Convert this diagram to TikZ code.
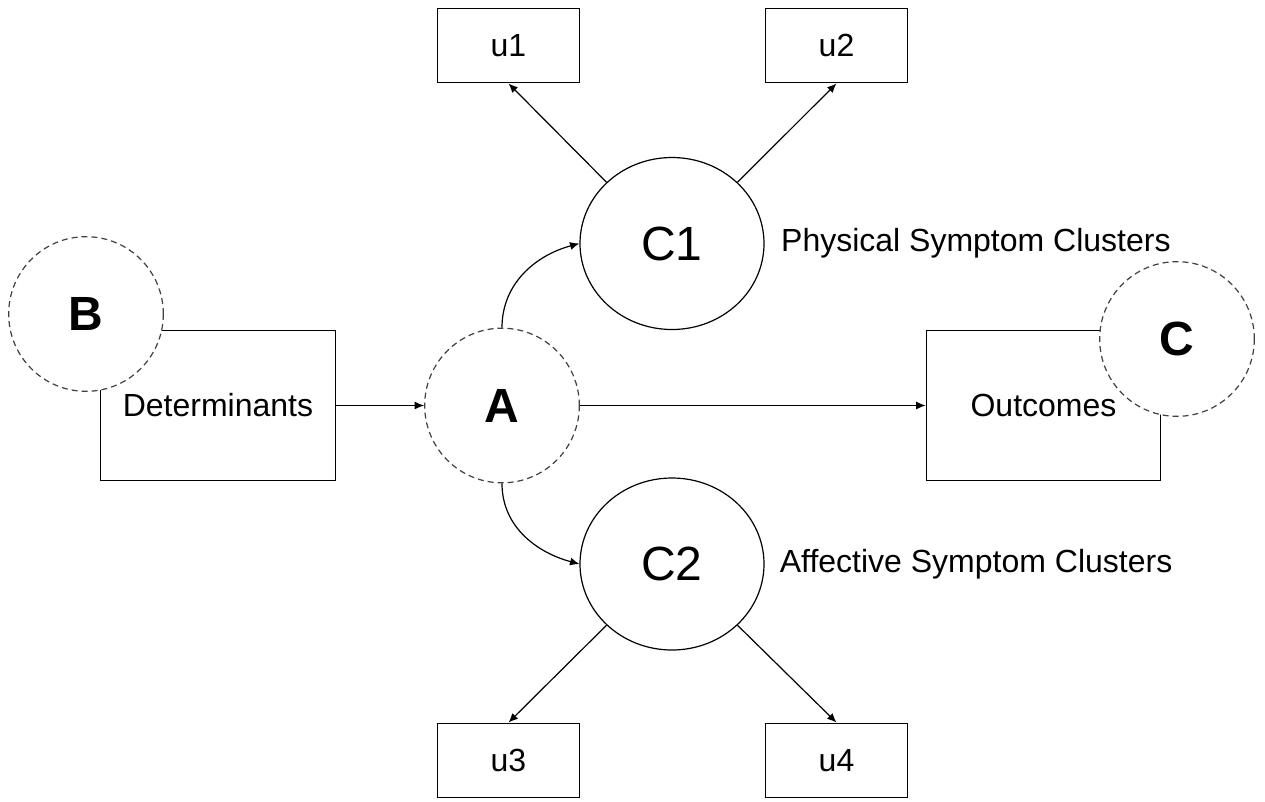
\documentclass[tikz,border=0pt]{standalone}
\usepackage{fontspec}
\setmainfont{Liberation Sans}
\usetikzlibrary{arrows.meta,positioning,shapes.geometric}

\begin{document}
\begin{tikzpicture}[
    x=0.75pt, y=-0.75pt,
    line width=0.9pt,
    font=\fontsize{24}{28}\selectfont,
    ubox/.style={rectangle, draw=black, minimum width=107pt, minimum height=56pt},
    bigbox/.style={rectangle, draw=black, minimum width=176pt, minimum height=112.5pt},
    cluster/.style={ellipse, draw=black, minimum width=138pt, minimum height=129pt,
                    font=\fontsize{36}{40}\selectfont},
    latent/.style={circle, draw=black!75, dash pattern=on 4.5pt off 3pt, fill=white,
                   minimum size=116pt, font=\fontsize{36}{40}\selectfont\bfseries},
    note/.style={inner sep=0pt},
    link/.style={-{Latex[length=7pt,width=6pt]}, black}
  ]
  \useasboundingbox (0,0) rectangle (1265,801);

  \node (u1)   [ubox]    at (508.5,45.5)   {u1};
  \node (u2)   [ubox]    at (836.5,45.5)   {u2};
  \node (u3)   [ubox]    at (508.5,760.5)  {u3};
  \node (u4)   [ubox]    at (836.5,760.5)  {u4};

  \node (C1)   [cluster] at (672,243.5)    {C1};
  \node (C2)   [cluster] at (672,564)      {C2};

  \node (phys) [note, right=12pt of C1]   {Physical Symptom Clusters};
  \node (aff)  [note, right=11pt of C2]   {Affective Symptom Clusters};

  \node (det)  [bigbox]  at (218,405.5)    {Determinants};
  \node (B)    [latent]  at (86,314)       {B};

  \node (out)  [bigbox]  at (1043.5,405.5) {Outcomes};
  \node (C)    [latent]  at (1177,339)     {C};

  \node (A)    [latent]  at (502,405.5)    {A};

  \draw[link]  (det.east)         --                   (A.west);
  \draw[link]  (A.east)           --                   (out.west);

  \draw[link]  (A.north)          to [out=90,in=195]   (C1.west);
  \draw[link]  (A.south)          to [out=-90,in=165]  (C2.west);

  \draw[link]  (C1.north west)    --                   (u1.south);
  \draw[link]  (C1.north east)    --                   (u2.south);
  \draw[link]  (C2.south west)    --                   (u3.north);
  \draw[link]  (C2.south east)    --                   (u4.north);
\end{tikzpicture}
\end{document}
